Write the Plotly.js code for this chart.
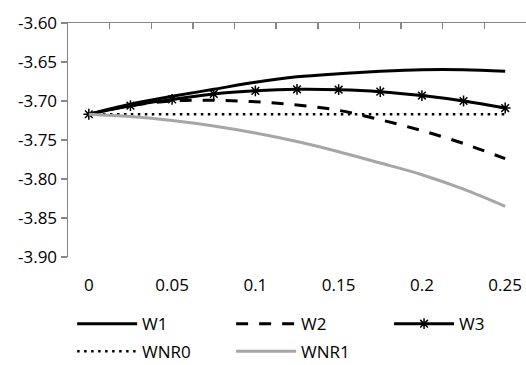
<!DOCTYPE html>
<html>
<head>
<meta charset="utf-8">
<script src="https://cdn.plot.ly/plotly-3.0.1.min.js"></script>
<style>html,body{margin:0;padding:0;background:#fff;}#chart{width:526px;height:365px;}</style>
</head>
<body>
<div id="chart"></div>
<script>
// Data
const xCats = [0, 0.025, 0.05, 0.075, 0.1, 0.125, 0.15, 0.175, 0.2, 0.225, 0.25];
const W1   = [-3.717, -3.704, -3.694, -3.685, -3.676, -3.669, -3.665, -3.662, -3.660, -3.660, -3.662];
const W2   = [-3.717, -3.706, -3.700, -3.699, -3.701, -3.705, -3.712, -3.724, -3.738, -3.7545, -3.774];
const W3   = [-3.717, -3.706, -3.698, -3.691, -3.687, -3.685, -3.6855, -3.688, -3.693, -3.700, -3.709];
const WNR0 = [-3.717, -3.717, -3.717, -3.717, -3.717, -3.717, -3.717, -3.717, -3.717, -3.717, -3.717];
const WNR1 = [-3.717, -3.720, -3.725, -3.732, -3.741, -3.752, -3.765, -3.7795, -3.7945, -3.813, -3.835];
const xTickVals = [0, 0.05, 0.1, 0.15, 0.2, 0.25];
const xTickText = ['0', '0.05', '0.1', '0.15', '0.2', '0.25'];
const yTickVals = [-3.90, -3.85, -3.80, -3.75, -3.70, -3.65, -3.60];
const yTickText = ['-3.90', '-3.85', '-3.80', '-3.75', '-3.70', '-3.65', '-3.60'];

const step = xCats[1] - xCats[0];
const boundaries = xCats.map(v => v - step / 2).concat([xCats[xCats.length - 1] + step / 2]);
const xRange = [boundaries[0], boundaries[boundaries.length - 1]];

const FONT = 'Open Sans, Liberation Sans, sans-serif';

const traces = [
  {x: xCats, y: W1, name: 'W1', mode: 'lines', line: {color: '#000', width: 3, shape: 'spline'}, legend: 'legend'},
  {x: xCats, y: W2, name: 'W2', mode: 'lines', line: {color: '#000', width: 3, shape: 'spline', dash: '12px,11px'}, legend: 'legend'},
  {x: xCats, y: W3, name: 'W3', mode: 'lines+markers', line: {color: '#000', width: 3, shape: 'spline'},
   marker: {symbol: 'asterisk-open', size: 9, color: '#000', line: {color: '#000', width: 1.5}}, legend: 'legend3'},
  {x: xCats, y: WNR0, name: 'WNR0', mode: 'lines', line: {color: '#000', width: 2.5, shape: 'spline', dash: '2.5px,4.5px'}, legend: 'legend2'},
  {x: xCats, y: WNR1, name: 'WNR1', mode: 'lines', line: {color: '#A6A6A6', width: 3, shape: 'spline'}, legend: 'legend2'},
  // invisible trace to carry the bottom label axis
  {x: xTickVals, y: xTickVals.map(() => null), xaxis: 'x2', yaxis: 'y', showlegend: false, hoverinfo: 'skip', mode: 'lines'}
];

const legendBase = {
  orientation: 'h', xanchor: 'left', yanchor: 'middle',
  entrywidth: 84, entrywidthmode: 'pixels', itemwidth: 60,
  font: {family: FONT, size: 17, color: '#000'}, bgcolor: 'rgba(0,0,0,0)'
};

const layout = {
  width: 526, height: 365,
  margin: {l: 68, r: 0, t: 23, b: 108, autoexpand: false},
  paper_bgcolor: '#fff', plot_bgcolor: '#fff',
  font: {family: FONT, size: 17, color: '#000'},
  showlegend: true,
  xaxis: {
    range: xRange, side: 'top', showline: true, linecolor: '#868686', linewidth: 1.5,
    ticks: 'inside', ticklen: 6, tickcolor: '#868686', tickwidth: 1.5,
    tickmode: 'array', tickvals: boundaries, showticklabels: false,
    showgrid: false, zeroline: false, fixedrange: true
  },
  xaxis2: {
    range: xRange, overlaying: 'x', side: 'bottom', anchor: 'y',
    showline: false, ticks: '', showgrid: false, zeroline: false,
    tickmode: 'array', tickvals: xTickVals, ticktext: xTickText,
    ticklabelstandoff: 16, tickfont: {family: FONT, size: 17, color: '#000'}
  },
  yaxis: {
    range: [-3.90, -3.60], showline: true, linecolor: '#868686', linewidth: 1.5,
    ticks: 'outside', ticklen: 6, tickcolor: '#868686', tickwidth: 1.5,
    tickmode: 'array', tickvals: yTickVals, ticktext: yTickText,
    ticklabelstandoff: 0, showgrid: false, zeroline: false,
    tickfont: {family: FONT, size: 17, color: '#000'}
  },
  legend: Object.assign({}, legendBase, {x: 0.009, y: -0.287}),
  legend3: Object.assign({}, legendBase, {x: 0.701, y: -0.287}),
  legend2: Object.assign({}, legendBase, {x: 0.009, y: -0.405})
};

Plotly.newPlot('chart', traces, layout, {staticPlot: true, displayModeBar: false});
</script>
</body>
</html>
